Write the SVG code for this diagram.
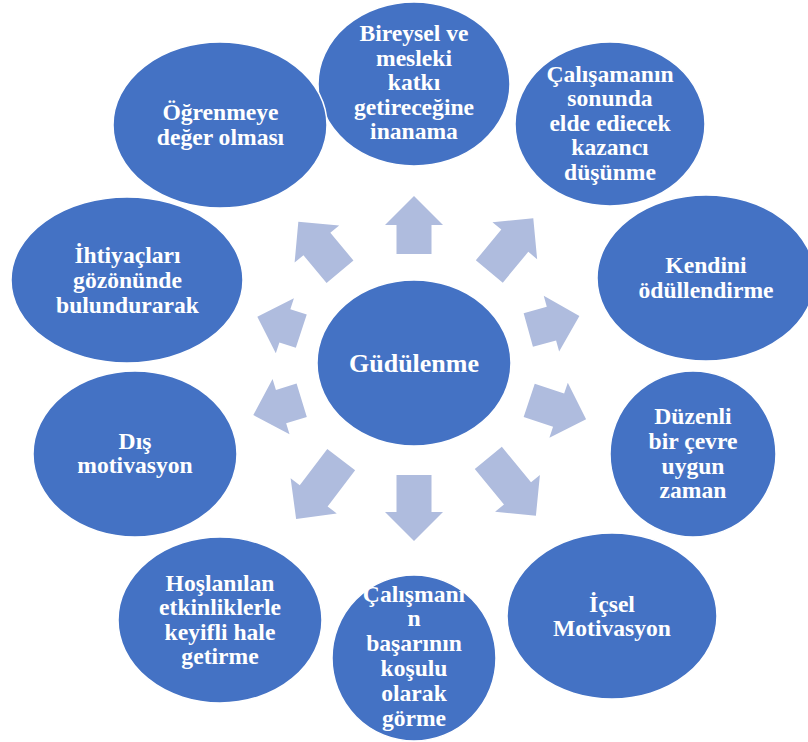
<svg xmlns="http://www.w3.org/2000/svg" width="808" height="742" viewBox="0 0 808 742">
<style>
.n{fill:#4472C4;stroke:#FFFFFF;stroke-width:1.5}
.a{fill:#AFBCDE}
text{font-family:"Liberation Serif","Times New Roman",serif;font-weight:bold;font-size:23.6px;fill:#FFFFFF;text-anchor:middle}
.c{font-size:26px}
</style>
<rect width="808" height="742" fill="#FFFFFF"/>
<g id="connectors">
<path class="a" transform="translate(414,254) rotate(-90)" d="M0,-17.5H29V-29L58,0L29,29V17.5H0Z"/>
<path class="a" transform="translate(489.3,271.5) rotate(-50.4)" d="M0,-17.5H40V-29L69,0L40,29V17.5H0Z"/>
<path class="a" transform="translate(528.3,330) rotate(-15.4)" d="M0,-17.5H24V-29L53,0L24,29V17.5H0Z"/>
<path class="a" transform="translate(529.2,400.3) rotate(18.5)" d="M0,-17.5H31V-29L60,0L31,29V17.5H0Z"/>
<path class="a" transform="translate(488.3,457.8) rotate(50.6)" d="M0,-17.5H46V-29L75,0L46,29V17.5H0Z"/>
<path class="a" transform="translate(414,475) rotate(90)" d="M0,-17.5H37V-29L66,0L37,29V17.5H0Z"/>
<path class="a" transform="translate(341.2,459.7) rotate(127.3)" d="M0,-17.5H45.4V-29L74.4,0L45.4,29V17.5H0Z"/>
<path class="a" transform="translate(301.7,400.3) rotate(163)" d="M0,-17.5H21.6V-29L50.6,0L21.6,29V17.5H0Z"/>
<path class="a" transform="translate(301.3,331.2) rotate(198.2)" d="M0,-17.5H17.3V-29L46.3,0L17.3,29V17.5H0Z"/>
<path class="a" transform="translate(340,271.7) rotate(230.2)" d="M0,-17.5H36.1V-29L65.1,0L36.1,29V17.5H0Z"/>
</g>
<g id="center">
<ellipse class="n" cx="414" cy="363" rx="97" ry="83"/>
<text class="c" x="414" y="372">Güdülenme</text>
</g>
<g id="node1">
<ellipse class="n" cx="414" cy="84" rx="96" ry="82"/>
<text x="414" y="41">Bireysel ve</text>
<text x="414" y="65.5">mesleki</text>
<text x="414" y="90">katkı</text>
<text x="414" y="114.5">getireceğine</text>
<text x="414" y="139">inanama</text>
</g>
<g id="node2">
<ellipse class="n" cx="610" cy="124" rx="95" ry="82"/>
<text x="610" y="81.7">Çalışamanın</text>
<text x="610" y="106">sonunda</text>
<text x="610" y="130.5">elde ediecek</text>
<text x="610" y="155">kazancı</text>
<text x="610" y="179.5">düşünme</text>
</g>
<g id="node3">
<ellipse class="n" cx="706" cy="278" rx="109" ry="83"/>
<text x="706" y="273">Kendini</text>
<text x="706" y="297.5">ödüllendirme</text>
</g>
<g id="node4">
<ellipse class="n" cx="693" cy="454" rx="83" ry="83"/>
<text x="693" y="424">Düzenli</text>
<text x="693" y="449">bir çevre</text>
<text x="693" y="473.5">uygun</text>
<text x="693" y="498">zaman</text>
</g>
<g id="node5">
<ellipse class="n" cx="612" cy="616" rx="105" ry="83"/>
<text x="612" y="611.7">İçsel</text>
<text x="612" y="636">Motivasyon</text>
</g>
<g id="node6">
<ellipse class="n" cx="414" cy="658" rx="82" ry="83"/>
<text x="414" y="601.5">Çalışmanı</text>
<text x="414" y="626">n</text>
<text x="414" y="651">başarının</text>
<text x="414" y="676">koşulu</text>
<text x="414" y="700.5">olarak</text>
<text x="414" y="725.5">görme</text>
</g>
<g id="node7">
<ellipse class="n" cx="220" cy="620" rx="102" ry="83"/>
<text x="220" y="590.7">Hoşlanılan</text>
<text x="220" y="615">etkinliklerle</text>
<text x="220" y="640">keyifli hale</text>
<text x="220" y="664">getirme</text>
</g>
<g id="node8">
<ellipse class="n" cx="135" cy="454" rx="102" ry="83"/>
<text x="135" y="449">Dış</text>
<text x="135" y="473.3">motivasyon</text>
</g>
<g id="node9">
<ellipse class="n" cx="127" cy="280" rx="116" ry="83"/>
<text x="127.5" y="262.7">İhtiyaçları</text>
<text x="127.5" y="288">gözönünde</text>
<text x="127.5" y="312.7">bulundurarak</text>
</g>
<g id="node10">
<ellipse class="n" cx="220" cy="125" rx="107" ry="83"/>
<text x="220.5" y="120">Öğrenmeye</text>
<text x="220.5" y="145">değer olması</text>
</g>
</svg>
